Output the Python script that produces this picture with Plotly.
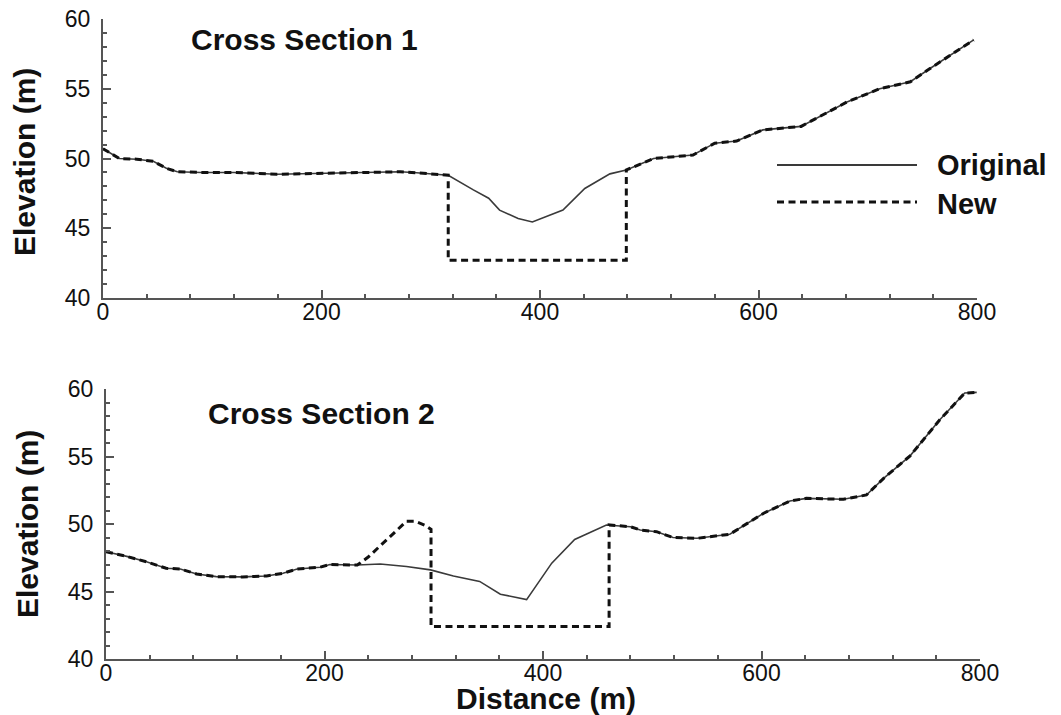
import plotly.graph_objects as go

# Cross Section 1 -- surveyed ground profile
cs1_dist = [0, 15, 31, 46, 58, 68, 90, 120, 159, 200, 250, 272, 287, 316,
            339, 353, 363, 380, 393, 421, 441, 464, 479, 504, 540, 560, 580,
            604, 639, 656, 681, 711, 739, 757, 797]
cs1_elev = [50.7, 50.0, 49.95, 49.8, 49.3, 49.05, 49.0, 49.0, 48.87, 48.95,
            49.0, 49.05, 48.98, 48.8, 47.75, 47.15, 46.3, 45.7, 45.45, 46.3,
            47.85, 48.9, 49.18, 50.0, 50.25, 51.1, 51.25, 52.05, 52.3, 53.0,
            54.05, 55.0, 55.5, 56.45, 58.5]

# Cross Section 1 -- redesigned channel
cs1_new_dist = [0, 15, 31, 46, 58, 68, 90, 120, 159, 200, 250, 272, 287, 316,
                316, 479, 479, 504, 540, 560, 580, 604, 639, 656, 681, 711,
                739, 757, 797]
cs1_new_elev = [50.7, 50.0, 49.95, 49.8, 49.3, 49.05, 49.0, 49.0, 48.87,
                48.95, 49.0, 49.05, 48.98, 48.8, 42.7, 42.7, 49.18, 50.0,
                50.25, 51.1, 51.25, 52.05, 52.3, 53.0, 54.05, 55.0, 55.5,
                56.45, 58.5]

# Cross Section 2 -- surveyed ground profile
cs2_dist = [0, 19, 37, 55, 68, 83, 101, 125, 147, 162, 175, 196, 205, 230,
            251, 275, 297, 318, 342, 361, 385, 408, 429, 458, 480, 489, 504,
            519, 541, 571, 602, 626, 641, 675, 696, 712, 736, 763, 786, 797]
cs2_elev = [47.95, 47.6, 47.2, 46.72, 46.67, 46.3, 46.1, 46.08, 46.15, 46.35,
            46.67, 46.8, 47.0, 46.96, 47.04, 46.85, 46.6, 46.15, 45.75, 44.8,
            44.4, 47.1, 48.85, 49.93, 49.8, 49.56, 49.43, 49.0, 48.94, 49.24,
            50.8, 51.7, 51.9, 51.83, 52.15, 53.4, 55.05, 57.7, 59.7, 59.75]

# Cross Section 2 -- redesigned channel with raised left bank
cs2_new_dist = [0, 19, 37, 55, 68, 83, 101, 125, 147, 162, 175, 196, 205,
                230, 240, 275, 283, 292, 297.5, 297.5, 460.5, 460.5, 480, 489,
                504, 519, 541, 571, 602, 626, 641, 675, 696, 712, 736, 763,
                786, 797]
cs2_new_elev = [47.95, 47.6, 47.2, 46.72, 46.67, 46.3, 46.1, 46.08, 46.15,
                46.35, 46.67, 46.8, 47.0, 46.96, 47.55, 50.2, 50.2, 49.9,
                49.6, 42.4, 42.4, 49.93, 49.8, 49.56, 49.43, 49.0, 48.94,
                49.24, 50.8, 51.7, 51.9, 51.83, 52.15, 53.4, 55.05, 57.7,
                59.7, 59.75]

section_titles = ["Cross Section 1", "Cross Section 2"]
legend_labels = ["Original", "New"]

W, H = 1061, 715
FONT = "Liberation Sans, Arial, Helvetica, sans-serif"
AXIS_COLOR = "#555555"
ORIG_COLOR = "#3a3a3a"
NEW_COLOR = "#111111"
NEW_DASH = "7px,4.5px"


def px_x(v):
    return v / W


def px_y(v):
    return 1 - v / H


fig = go.Figure()

panels = [
    (cs1_dist, cs1_elev, cs1_new_dist, cs1_new_elev, "x", "y"),
    (cs2_dist, cs2_elev, cs2_new_dist, cs2_new_elev, "x2", "y2"),
]
for d, e, nd, ne, xa, ya in panels:
    fig.add_trace(go.Scatter(x=d, y=e, mode="lines", xaxis=xa, yaxis=ya,
                             line=dict(color=ORIG_COLOR, width=1.6),
                             showlegend=False, name=legend_labels[0]))
    fig.add_trace(go.Scatter(x=nd, y=ne, mode="lines", xaxis=xa, yaxis=ya,
                             line=dict(color=NEW_COLOR, width=3, dash=NEW_DASH),
                             showlegend=False, name=legend_labels[1]))

axis_common = dict(
    automargin=False,
    showline=True, linecolor=AXIS_COLOR, linewidth=2,
    ticks="inside", ticklen=8, tickwidth=1.5, tickcolor=AXIS_COLOR,
    showgrid=False, zeroline=False,
    tickfont=dict(family=FONT, size=23, color="#111111"),
)

x_common = dict(axis_common, range=[0, 800], tick0=0, dtick=200,
                ticklabelstandoff=-8,
                minor=dict(dtick=40, ticks="inside", ticklen=4,
                           tickwidth=1.5, tickcolor=AXIS_COLOR))
y_common = dict(axis_common, range=[40, 60], tick0=40, dtick=5,
                ticklabelstandoff=6,
                minor=dict(dtick=1, ticks="inside", ticklen=4,
                           tickwidth=1.5, tickcolor=AXIS_COLOR))

fig.update_layout(
    width=W, height=H,
    margin=dict(l=0, r=0, t=0, b=0, autoexpand=False),
    paper_bgcolor="white", plot_bgcolor="white",
    showlegend=False,
    xaxis=dict(x_common, domain=[px_x(103), px_x(977)], anchor="y"),
    yaxis=dict(y_common, domain=[px_y(298), px_y(19)], anchor="x"),
    xaxis2=dict(x_common, domain=[px_x(106), px_x(980)], anchor="y2"),
    yaxis2=dict(y_common, domain=[px_y(659), px_y(389)], anchor="x2"),
)

bold = dict(family=FONT, size=30, color="#111111")
annotations = [
    dict(text="<b>%s</b>" % section_titles[0], x=px_x(304), y=px_y(39)),
    dict(text="<b>%s</b>" % section_titles[1], x=px_x(321), y=px_y(413)),
    dict(text="<b>Distance (m)</b>", x=px_x(546), y=px_y(698)),
    dict(text="<b>Elevation (m)</b>", x=px_x(24), y=px_y(162), textangle=-90),
    dict(text="<b>Elevation (m)</b>", x=px_x(27), y=px_y(524), textangle=-90),
]
for a in annotations:
    fig.add_annotation(xref="paper", yref="paper", showarrow=False,
                       xanchor="center", yanchor="middle",
                       font=bold, **a)

# Legend drawn in the upper panel
leg_font = dict(family=FONT, size=29, color="#111111")
fig.add_shape(type="line", xref="paper", yref="paper",
              x0=px_x(777), x1=px_x(917), y0=px_y(165), y1=px_y(165),
              line=dict(color=ORIG_COLOR, width=1.8))
fig.add_shape(type="line", xref="paper", yref="paper",
              x0=px_x(777), x1=px_x(917), y0=px_y(202), y1=px_y(202),
              line=dict(color=NEW_COLOR, width=3, dash=NEW_DASH))
fig.add_annotation(xref="paper", yref="paper", showarrow=False,
                   xanchor="left", yanchor="middle", x=px_x(935), y=px_y(165),
                   text="<b>%s</b>" % legend_labels[0], font=leg_font)
fig.add_annotation(xref="paper", yref="paper", showarrow=False,
                   xanchor="left", yanchor="middle", x=px_x(935), y=px_y(204),
                   text="<b>%s</b>" % legend_labels[1], font=leg_font)

fig.write_html("out.html")
